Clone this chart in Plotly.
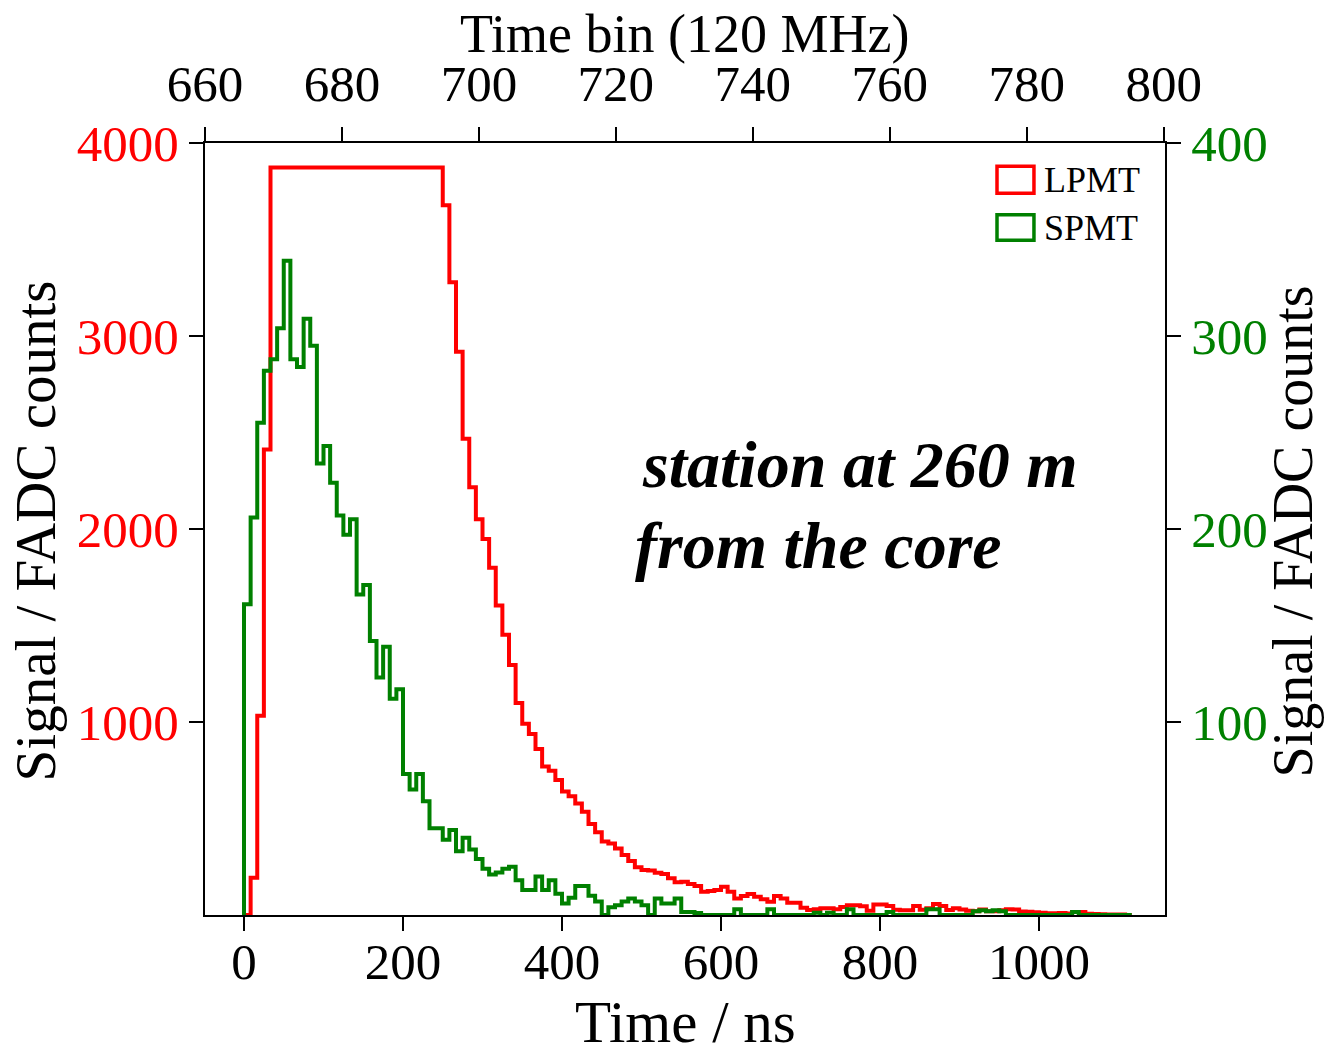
import plotly.graph_objects as go

# 120 MHz 取樣, 每個 bin 的寬度 (ns)
BIN_NS = 1000 / 120

# LPMT 每個 time bin 的 FADC counts (左軸)
lpmt_counts = [
    0, 193, 1032, 2412,
    3873, 3873, 3873, 3873, 3873, 3873, 3873, 3873, 3873, 3873, 3873, 3873, 3873,
    3873, 3873, 3873, 3873, 3873, 3873, 3873, 3873, 3873, 3873, 3873, 3873, 3873,
    3678, 3279, 2918, 2467, 2216, 2050, 1948, 1799, 1603, 1452,
    1295, 1098, 991, 938, 860, 770, 747, 700, 640, 615,
    578, 535, 472, 429, 381, 371, 345, 311, 280, 248,
    233, 230, 219, 212, 190, 170, 172, 161, 150, 121,
    125, 130, 147, 121, 86, 98, 109, 95, 81, 69,
    98, 86, 64, 64, 38, 26, 30, 35, 35, 30,
    42, 50, 50, 45, 22, 55, 55, 47, 27, 24,
    24, 47, 27, 35, 57, 47, 26, 35, 29, 22,
    20, 28, 20, 20, 24, 30, 28, 18, 17, 14,
    12, 9, 9, 11, 8, 15, 15, 6, 5, 4,
    3, 3, 2, 0,
]

# SPMT 每個 time bin 的 FADC counts (右軸)
spmt_counts = [
    161, 206, 255, 282, 288, 304, 339, 288, 284, 309,
    295, 234, 243, 224, 207, 197, 205, 166, 171, 142,
    123, 139, 112, 117, 73, 65, 73, 59, 45, 45,
    39, 44, 33, 40, 34, 29, 24, 21, 22, 24,
    25, 18, 13, 13, 20, 13, 18, 11, 6, 9,
    15, 15, 10, 7, 0, 4, 5, 7, 8.5, 7,
    5, 0, 8.5, 6, 6, 8.5, 1.5, 1.5, 1, 0,
    0, 0, 0, 0, 3, 0, 0, 0, 0, 3,
    0, 0, 0, 0, 0, 0, 1.2, 0, 1.2, 0,
    0, 3, 0, 0, 0, 0, 0, 1.5, 0, 0,
    0, 0, 0, 3, 3, 0, 0, 0, 0, 0,
    2, 2.4, 2, 2.5, 2, 0, 0, 0, 0, 0,
    0, 0, 0, 0, 0, 1.5, 0, 0, 0, 0,
    0, 0, 0, 0,
]

time_ticks = [0, 200, 400, 600, 800, 1000]
bin_ticks = [660, 680, 700, 720, 740, 760, 780, 800]
lpmt_ticks = [1000, 2000, 3000, 4000]
spmt_ticks = [100, 200, 300, 400]
series_names = ['LPMT', 'SPMT']
note_lines = ['station at 260 m', 'from the core']
x_title = 'Time / ns'
x2_title = 'Time bin (120 MHz)'
y_title = 'Signal / FADC counts'

RED = '#ff0000'
GREEN = '#008000'
FONT = 'Liberation Serif'


# 把 bin 內容轉成階梯線的點
def step_xy(counts):
    edges = [i * BIN_NS for i in range(len(counts) + 1)]
    xs = [edges[0]] + edges
    ys = [0] + list(counts) + [0]
    return xs, ys


def axis_style(**kw):
    base = dict(
        showline=True, linewidth=2, linecolor='black', mirror=False,
        ticks='outside', ticklen=14, tickwidth=2, tickcolor='black',
        showgrid=False, zeroline=False, automargin=False,
        tickfont=dict(family=FONT, size=51, color='black'),
    )
    base.update(kw)
    return base


def add_text(fig, text, x, y, size, angle=0, xanchor='center'):
    fig.add_annotation(text=text, xref='paper', yref='paper', x=x, y=y,
                       xanchor=xanchor, yanchor='middle', textangle=angle,
                       showarrow=False, font=dict(family=FONT, size=size, color='black'))


def main():
    fig = go.Figure()

    x, y = step_xy(lpmt_counts)
    fig.add_trace(go.Scatter(x=x, y=y, mode='lines', line_shape='hv',
                             line=dict(color=RED, width=4),
                             name=series_names[0], yaxis='y'))
    x, y = step_xy(spmt_counts)
    fig.add_trace(go.Scatter(x=x, y=y, mode='lines', line_shape='hv',
                             line=dict(color=GREEN, width=4),
                             name=series_names[1], yaxis='y2'))
    # 上方 time bin 軸需要一個 (空的) trace 才會畫出來
    fig.add_trace(go.Scatter(x=[], y=[], xaxis='x2', hoverinfo='skip'))

    fig.update_layout(
        width=1327, height=1056,
        margin=dict(l=205, r=162, t=143, b=141),
        plot_bgcolor='white', paper_bgcolor='white',
        showlegend=False,
        font=dict(family=FONT, color='black'),
        xaxis=axis_style(range=[-49.06, 1158.5], tickvals=time_ticks, ticklabelstandoff=-13),
        xaxis2=axis_style(range=[660, 800.2], tickvals=bin_ticks, overlaying='x',
                          side='top', anchor='y', ticklabelstandoff=6),
        yaxis=axis_style(range=[0, 4000], tickvals=lpmt_ticks,
                         tickfont=dict(family=FONT, size=51, color=RED)),
        yaxis2=axis_style(range=[0, 400], tickvals=spmt_ticks, overlaying='y',
                          side='right', anchor='x',
                          tickfont=dict(family=FONT, size=51, color=GREEN)),
    )

    # 軸標題 (用 annotation 放, 位置比較好控制)
    add_text(fig, x_title, 0.5, -0.138, 59)
    add_text(fig, x2_title, 0.4995, 1.141, 54)
    add_text(fig, y_title, -0.177, 0.497, 57, angle=-90)
    add_text(fig, y_title, 1.1335, 0.497, 56, angle=-90)

    # 圖內文字, 兩行分開放
    for line, xp, yp in [(note_lines[0], 0.453, 0.583), (note_lines[1], 0.446, 0.479)]:
        add_text(fig, '<b><i>' + line + '</i></b>', xp, yp, 66, xanchor='left')

    # 自製圖例 (空心方框)
    for name, color, y0, y1 in [(series_names[0], RED, 0.935, 0.970),
                                (series_names[1], GREEN, 0.874, 0.907)]:
        fig.add_shape(type='rect', xref='paper', yref='paper',
                      x0=0.825, x1=0.8635, y0=y0, y1=y1,
                      line=dict(color=color, width=3.5), fillcolor='rgba(0,0,0,0)')
        add_text(fig, name, 0.872, (y0 + y1) / 2, 36, xanchor='left')

    # 去掉頁面 body 預設的 8px 邊界, 也不要 modebar
    fig.write_html("out.html", config={'displayModeBar': False},
                   post_script="document.body.style.margin='0px';")


if __name__ == "__main__":
    main()
